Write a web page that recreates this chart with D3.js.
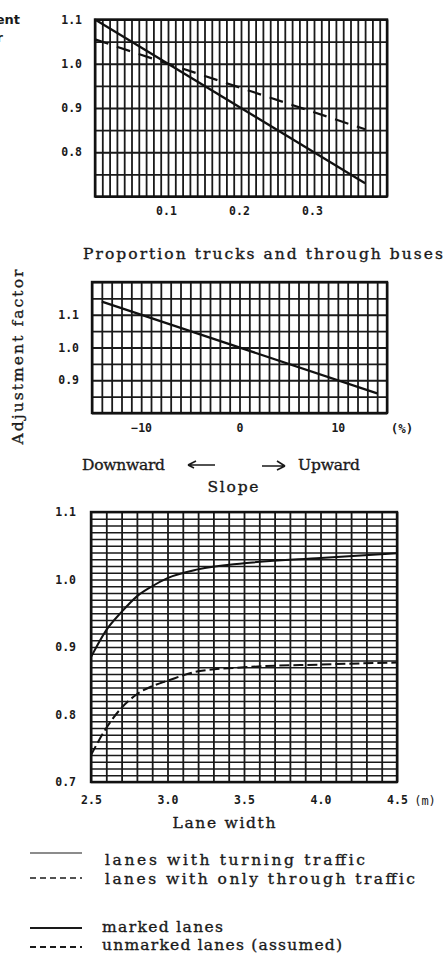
<!DOCTYPE html>
<html>
<head>
<meta charset="utf-8">
<script src="https://cdn.jsdelivr.net/npm/d3@7/dist/d3.min.js"></script>
<style>
  html, body { margin: 0; padding: 0; background: #fff; }
  svg { display: block; }
  .type { font-family: "DejaVu Serif", "Liberation Serif", serif; font-size: 15.5px; fill: #1a1a1a; stroke: #1a1a1a; stroke-width: 0.35px; }
  .tick-lab { font-family: "DejaVu Sans Mono", monospace; font-weight: bold; font-size: 11.5px; fill: #1a1a1a; }
</style>
</head>
<body>
<script>
// Truck proportion panel
const truckShare = [0, 0.37];
const truckTurning = [1.1, 0.73];
const truckThrough = [1.055, 0.852];
const truckXTicks = [0.1, 0.2, 0.3];
const truckYTicks = [0.8, 0.9, 1.0, 1.1];

// Slope panel
const slopePct = [-14, 14];
const slopeFactor = [1.14, 0.86];
const slopeXTicks = [-10, 0, 10];
const slopeYTicks = [0.9, 1.0, 1.1];

// Lane width panel
const laneWidth = [2.5, 2.6, 2.7, 2.8, 2.9, 3.0, 3.2, 3.5, 4.0, 4.5];
const laneMarked = [0.885, 0.925, 0.952, 0.975, 0.99, 1.002, 1.015, 1.024, 1.032, 1.039];
const laneUnmarked = [0.74, 0.78, 0.81, 0.83, 0.842, 0.85, 0.864, 0.87, 0.874, 0.877];
const laneXTicks = [2.5, 3.0, 3.5, 4.0, 4.5];
const laneYTicks = [0.7, 0.8, 0.9, 1.0, 1.1];

const W = 443, H = 954;
const svg = d3.select("body").append("svg").attr("width", W).attr("height", H);

function range(a, b, step) {
  const out = [];
  const n = Math.round((b - a) / step);
  for (let i = 0; i <= n; i++) out.push(+(a + i * step).toFixed(4));
  return out;
}

// typewriter-style label spread over a fixed width
function typeText(x, y, str, width, anchor) {
  const t = svg.append("text").attr("class", "type")
    .attr("x", x).attr("y", y).text(str);
  if (width) t.attr("textLength", width).attr("lengthAdjust", "spacing");
  if (anchor) t.attr("text-anchor", anchor);
  return t;
}

function panel(opt) {
  const g = svg.append("g");
  const x = d3.scaleLinear().domain(opt.xDomain).range([opt.left, opt.right]);
  const y = d3.scaleLinear().domain(opt.yDomain).range([opt.bottom, opt.top]);

  // vertical grid
  g.append("g")
    .attr("transform", `translate(0,${opt.bottom})`)
    .call(d3.axisBottom(x).tickValues(range(opt.xDomain[0], opt.xDomain[1], opt.xGrid)).tickSize(-(opt.bottom - opt.top)).tickFormat(""))
    .call(s => s.select(".domain").remove())
    .call(s => s.selectAll("line").attr("stroke", "#1a1a1a").attr("stroke-width", opt.vgW));

  // horizontal grid
  g.append("g")
    .attr("transform", `translate(${opt.left},0)`)
    .call(d3.axisLeft(y).tickValues(range(opt.yDomain[0], opt.yDomain[1], opt.yGrid)).tickSize(-(opt.right - opt.left)).tickFormat(""))
    .call(s => s.select(".domain").remove())
    .call(s => s.selectAll("line").attr("stroke", "#1a1a1a").attr("stroke-width", opt.hgW));

  // frame
  g.append("rect")
    .attr("x", opt.left).attr("y", opt.top)
    .attr("width", opt.right - opt.left).attr("height", opt.bottom - opt.top)
    .attr("fill", "none").attr("stroke", "#111").attr("stroke-width", 2.4);

  // y tick labels
  g.append("g")
    .attr("transform", `translate(${opt.left - opt.yLabGap},0)`)
    .call(d3.axisLeft(y).tickValues(opt.yTicks).tickSize(0).tickFormat(d3.format(".1f")))
    .call(s => s.select(".domain").remove())
    .call(s => s.selectAll("text").attr("class", "tick-lab").attr("dx", 0));

  // x tick labels
  g.append("g")
    .attr("transform", `translate(0,${opt.xLabY})`)
    .call(d3.axisBottom(x).tickValues(opt.xTicks).tickSize(0).tickFormat(opt.xFmt))
    .call(s => s.select(".domain").remove())
    .call(s => s.selectAll("text").attr("class", "tick-lab").attr("dy", 0).attr("dx", opt.xLabDx || 0));

  return { g, x, y };
}

// ---- Panel 1: proportion of trucks and through buses
const p1 = panel({
  xDomain: [0, 0.4], yDomain: [0.7, 1.1],
  left: 95, right: 387, top: 19.5, bottom: 196.5,
  xGrid: 0.01, yGrid: 0.05, vgW: 1.8, hgW: 1.8,
  yTicks: truckYTicks, xTicks: truckXTicks, xFmt: d3.format(".1f"),
  yLabGap: 10, xLabY: 212, xLabDx: -2
});
const line1 = d3.line().x((d, i) => p1.x(truckShare[i])).y(d => p1.y(d));
p1.g.append("path").attr("d", line1(truckTurning))
  .attr("fill", "none").attr("stroke", "#111").attr("stroke-width", 2.2);
p1.g.append("path").attr("d", line1(truckThrough))
  .attr("fill", "none").attr("stroke", "#111").attr("stroke-width", 2.2)
  .attr("stroke-dasharray", "14 9");

// heading running off the left edge
svg.append("text").attr("x", 20).attr("y", 24).attr("text-anchor", "end")
  .style("font-family", "DejaVu Sans").style("font-weight", "bold").style("font-size", "13px")
  .attr("fill", "#1a1a1a").text("Adjustment");
svg.append("text").attr("x", 3).attr("y", 42).attr("text-anchor", "end")
  .style("font-family", "DejaVu Sans").style("font-weight", "bold").style("font-size", "13px")
  .attr("fill", "#1a1a1a").text("factor");

typeText(83, 259, "Proportion trucks and through buses", 360);

// ---- Panel 2: slope
const p2 = panel({
  xDomain: [-15, 15], yDomain: [0.8, 1.2],
  left: 92, right: 387, top: 282, bottom: 413,
  xGrid: 1, yGrid: 0.05, vgW: 1.8, hgW: 1.8,
  yTicks: slopeYTicks, xTicks: slopeXTicks, xFmt: d3.format("d"),
  yLabGap: 10, xLabY: 429
});
const line2 = d3.line().x((d, i) => p2.x(slopePct[i])).y(d => p2.y(d));
p2.g.append("path").attr("d", line2(slopeFactor))
  .attr("fill", "none").attr("stroke", "#111").attr("stroke-width", 2.2);
svg.append("text").attr("class", "tick-lab").attr("x", 402).attr("y", 433)
  .attr("text-anchor", "middle").style("font-size", "12.5px").text("(%)");

typeText(18, 357, "Adjustment factor", 175, "middle")
  .attr("transform", "rotate(-90,18,357)").attr("dy", "0.35em");

typeText(82, 470, "Downward", 83);
typeText(298, 470, "Upward", 62);
typeText(233, 492, "Slope", 51, "middle");

// direction arrows
const arrows = svg.append("g").attr("stroke", "#1a1a1a").attr("stroke-width", 1.6).attr("fill", "none");
arrows.append("path").attr("d", "M188,465 L215,465 M188,465 L196,461 M188,465 L194,468");
arrows.append("path").attr("d", "M262,466 L285,466 M285,466 L277,461 M285,466 L277,470");

// ---- Panel 3: lane width
const p3 = panel({
  xDomain: [2.5, 4.5], yDomain: [0.7, 1.1],
  left: 91, right: 397, top: 512, bottom: 782,
  xGrid: 0.1, yGrid: 0.01, vgW: 1.8, hgW: 1.7,
  yTicks: laneYTicks, xTicks: laneXTicks, xFmt: d3.format(".1f"),
  yLabGap: 12, xLabY: 801
});
const line3 = d3.line().curve(d3.curveMonotoneX).x((d, i) => p3.x(laneWidth[i])).y(d => p3.y(d));
p3.g.append("path").attr("d", line3(laneMarked))
  .attr("fill", "none").attr("stroke", "#111").attr("stroke-width", 2);
p3.g.append("path").attr("d", line3(laneUnmarked))
  .attr("fill", "none").attr("stroke", "#111").attr("stroke-width", 2)
  .attr("stroke-dasharray", "10 4");
svg.append("text").attr("class", "tick-lab").attr("x", 425).attr("y", 805)
  .attr("text-anchor", "middle").style("font-weight", "normal").style("font-size", "12px").text("(m)");

typeText(224, 828, "Lane width", 103, "middle");

// ---- Legends
const legend = [
  { y: 853, ty: 865, x: 105, dash: null, w: 1.2, label: "lanes with turning traffic", len: 260 },
  { y: 878, ty: 884, x: 105, dash: "6 4", w: 1.6, label: "lanes with only through traffic", len: 310 },
  { y: 928, ty: 932, x: 102, dash: null, w: 2.2, label: "marked lanes", len: 121 },
  { y: 947, ty: 950, x: 102, dash: "6 4", w: 1.8, label: "unmarked lanes (assumed)", len: 240 }
];
const lg = svg.append("g");
lg.selectAll("line").data(legend).join("line")
  .attr("x1", 30).attr("x2", 82).attr("y1", d => d.y).attr("y2", d => d.y)
  .attr("stroke", "#1a1a1a").attr("stroke-width", d => d.w)
  .attr("stroke-dasharray", d => d.dash);
legend.forEach(d => typeText(d.x, d.ty, d.label, d.len));
</script>
</body>
</html>
